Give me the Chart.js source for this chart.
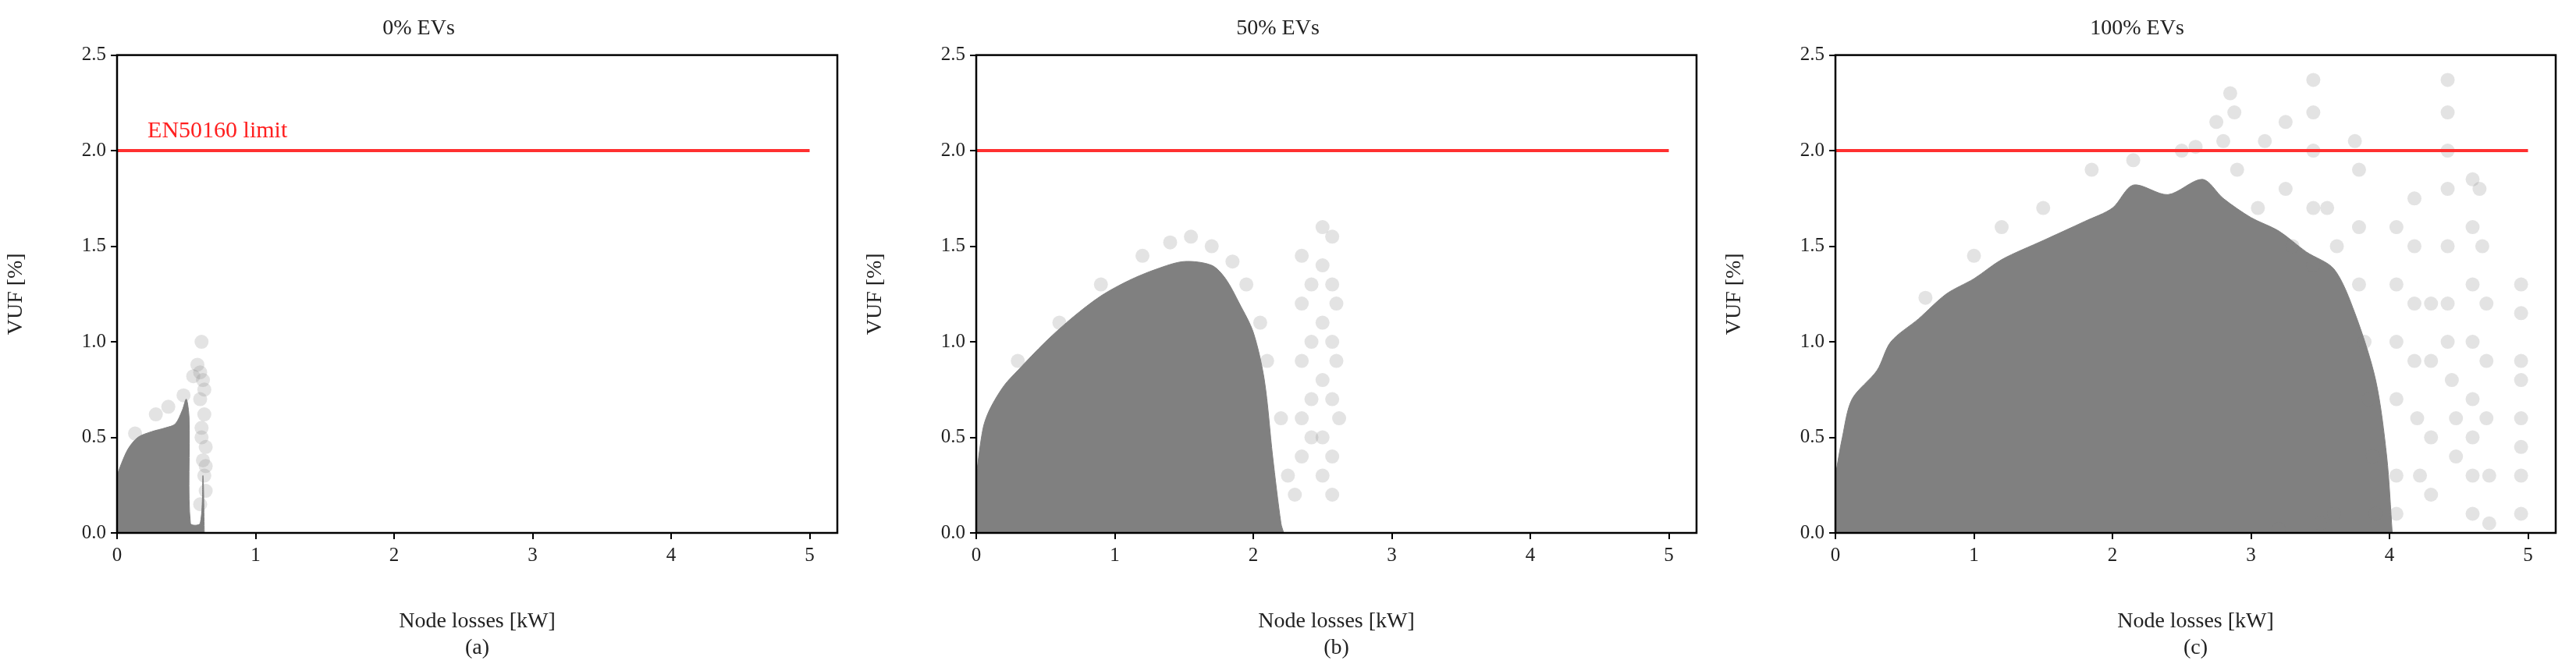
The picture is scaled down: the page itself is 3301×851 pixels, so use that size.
<!DOCTYPE html>
<html><head><meta charset="utf-8">
<script src="https://cdn.jsdelivr.net/npm/chart.js@4.4.0/dist/chart.umd.min.js"></script>
<style>body{margin:0;background:#fff;width:3301px;height:851px;position:relative;overflow:hidden}
.p{position:absolute;top:0;width:1100px;height:851px}</style></head><body>
<div class="p" style="left:0"><canvas id="c0" width="1100" height="851"></canvas></div>
<div class="p" style="left:1101px"><canvas id="c1" width="1100" height="851"></canvas></div>
<div class="p" style="left:2202px"><canvas id="c2" width="1100" height="851"></canvas></div>
<script>
const titles = ['0% EVs','50% EVs','100% EVs'];
const subLabels = ['(a)','(b)','(c)'];
const xTicks = [0,1,2,3,4,5];
const yTicks = [0.0,0.5,1.0,1.5,2.0,2.5];
const limitLine = [{x:0,y:2},{x:5,y:2}];
const limitLabel = 'EN50160 limit';
// upper envelope of the dense clouds
const envA = [[0,0.3],[0.03,0.36],[0.08,0.44],[0.15,0.5],[0.25,0.53],[0.35,0.55],[0.42,0.57],[0.47,0.64],[0.5,0.7],[0.52,0.6],[0.53,0.05],[0.6,0.05],[0.62,0.3],[0.63,0.0]];
const envB = [[0,0.3],[0.05,0.55],[0.1,0.65],[0.2,0.77],[0.3,0.85],[0.5,1.0],[0.7,1.13],[0.9,1.24],[1.1,1.32],[1.3,1.38],[1.5,1.42],[1.7,1.4],[1.8,1.33],[1.9,1.2],[2.0,1.05],[2.08,0.8],[2.14,0.4],[2.2,0.05],[2.22,0]];
const envC = [[0,0.3],[0.05,0.5],[0.12,0.7],[0.3,0.85],[0.4,1.0],[0.6,1.12],[0.8,1.25],[1.0,1.33],[1.2,1.43],[1.5,1.53],[1.8,1.63],[2.0,1.7],[2.15,1.82],[2.4,1.77],[2.65,1.85],[2.8,1.75],[3.0,1.65],[3.2,1.58],[3.4,1.47],[3.6,1.38],[3.75,1.15],[3.9,0.8],[3.98,0.4],[4.02,0]];
// sparse translucent points outside the dense clouds
const ptsA = [[0.61,1.0],[0.58,0.88],[0.55,0.82],[0.6,0.84],[0.62,0.8],[0.6,0.7],[0.63,0.62],[0.61,0.55],[0.64,0.45],[0.62,0.38],[0.63,0.3],[0.64,0.22],[0.6,0.15],[0.48,0.72],[0.37,0.66],[0.28,0.62],[0.13,0.52],[0.63,0.75],[0.61,0.5],[0.64,0.35]];
const ptsB = [[1.2,1.45],[1.4,1.52],[1.55,1.55],[1.7,1.5],[1.85,1.42],[1.95,1.3],[2.05,1.1],[2.1,0.9],[2.2,0.6],[2.25,0.3],[2.3,0.2],[2.35,1.45],[2.35,1.2],[2.35,0.9],[2.35,0.6],[2.35,0.4],[2.42,1.3],[2.42,1.0],[2.42,0.7],[2.42,0.5],[2.5,1.6],[2.5,1.4],[2.5,1.1],[2.5,0.8],[2.5,0.5],[2.5,0.3],[2.57,1.55],[2.57,1.3],[2.57,1.0],[2.57,0.7],[2.57,0.4],[2.57,0.2],[2.6,1.2],[2.6,0.9],[2.62,0.6],[0.9,1.3],[0.6,1.1],[0.3,0.9]];
const ptsC = [[0.65,1.23],[1.0,1.45],[1.2,1.6],[1.5,1.7],[1.85,1.9],[2.15,1.95],[2.5,2.0],[2.6,2.02],[2.75,2.15],[2.8,2.05],[2.85,2.3],[2.88,2.2],[2.9,1.9],[3.1,2.05],[3.05,1.7],[3.25,2.15],[3.25,1.8],[3.3,1.5],[3.45,2.37],[3.45,2.2],[3.45,2.0],[3.45,1.7],[3.45,1.4],[3.55,1.7],[3.62,1.5],[3.75,2.05],[3.78,1.9],[3.78,1.6],[3.78,1.3],[3.82,1.0],[3.85,0.7],[3.88,0.4],[3.9,0.1],[4.05,1.6],[4.05,1.3],[4.05,1.0],[4.05,0.7],[4.05,0.3],[4.05,0.1],[4.18,1.75],[4.18,1.5],[4.18,1.2],[4.18,0.9],[4.2,0.6],[4.22,0.3],[4.3,1.2],[4.3,0.9],[4.3,0.5],[4.3,0.2],[4.42,2.37],[4.42,2.2],[4.42,2.0],[4.42,1.8],[4.42,1.5],[4.42,1.2],[4.42,1.0],[4.45,0.8],[4.48,0.6],[4.48,0.4],[4.6,1.85],[4.6,1.6],[4.6,1.3],[4.6,1.0],[4.6,0.7],[4.6,0.5],[4.6,0.3],[4.6,0.1],[4.65,1.8],[4.67,1.5],[4.7,1.2],[4.7,0.9],[4.7,0.6],[4.72,0.3],[4.72,0.05],[4.95,1.3],[4.95,1.15],[4.95,0.9],[4.95,0.8],[4.95,0.6],[4.95,0.45],[4.95,0.3],[4.95,0.1],[3.2,0.02],[3.5,0.05],[3.6,0.1]];
const envs=[envA,envB,envC], pts=[ptsA,ptsB,ptsC];
const FONT='"Liberation Serif","DejaVu Serif",serif';
const frame={id:'frame',afterDatasetsDraw(ch){const a=ch.chartArea,c=ch.ctx;c.save();c.strokeStyle='#000';c.lineWidth=2.5;c.strokeRect(a.left,a.top,a.right-a.left,a.bottom-a.top);c.restore();}};
function labelPlugin(show){return {id:'lbl',afterDatasetsDraw(ch){if(!show)return;const c=ch.ctx;c.save();c.fillStyle='#ff2020';c.font='30px '+FONT;c.textBaseline='bottom';c.fillText(limitLabel,ch.scales.x.getPixelForValue(0.22),ch.scales.y.getPixelForValue(2.04));c.restore();}};}
for(let i=0;i<3;i++){
 new Chart(document.getElementById('c'+i),{
  type:'scatter',
  data:{datasets:[
   {type:'line',data:envs[i].map(p=>({x:p[0],y:p[1]})),fill:'origin',backgroundColor:'#808080',borderColor:'#808080',borderWidth:1,pointRadius:0,tension:0.3,order:3},
   {data:pts[i].map(p=>({x:p[0],y:p[1]})),backgroundColor:'rgba(128,128,128,0.22)',borderWidth:0,pointRadius:9,order:2},
   {type:'line',data:limitLine,borderColor:'#ff3030',borderWidth:4,pointRadius:0,fill:false,order:1}
  ]},
  options:{responsive:false,animation:false,devicePixelRatio:1,
   layout:{padding:{left:0,right:27,top:0,bottom:0}},
   plugins:{legend:{display:false},tooltip:{enabled:false},
    title:{display:true,text:titles[i],color:'#222',font:{family:FONT,size:28,weight:'normal'},padding:{top:20,bottom:17}}},
   scales:{
    x:{type:'linear',min:0,max:5.2,afterBuildTicks:s=>{s.ticks=xTicks.map(v=>({value:v}));},
     grid:{drawOnChartArea:false,drawTicks:true,tickLength:8,color:'#000',lineWidth:2},border:{display:false},
     ticks:{color:'#222',font:{family:FONT,size:25},padding:6,maxRotation:0},
     title:{display:true,text:['Node losses [kW]',subLabels[i]],color:'#222',font:{family:FONT,size:28},padding:{top:4}},
     afterFit:s=>{s.height=168;}},
    y:{min:0,max:2.5,afterBuildTicks:s=>{s.ticks=yTicks.map(v=>({value:v}));},
     grid:{drawOnChartArea:false,drawTicks:true,tickLength:8,color:'#000',lineWidth:2},border:{display:false},
     ticks:{color:'#222',font:{family:FONT,size:25},padding:6,callback:v=>v.toFixed(1)},
     title:{display:true,text:'VUF [%]',color:'#222',font:{family:FONT,size:28}},
     afterFit:s=>{s.width=150;}}
   }},
  plugins:[frame,labelPlugin(i===0)]
 });
}
</script></body></html>
